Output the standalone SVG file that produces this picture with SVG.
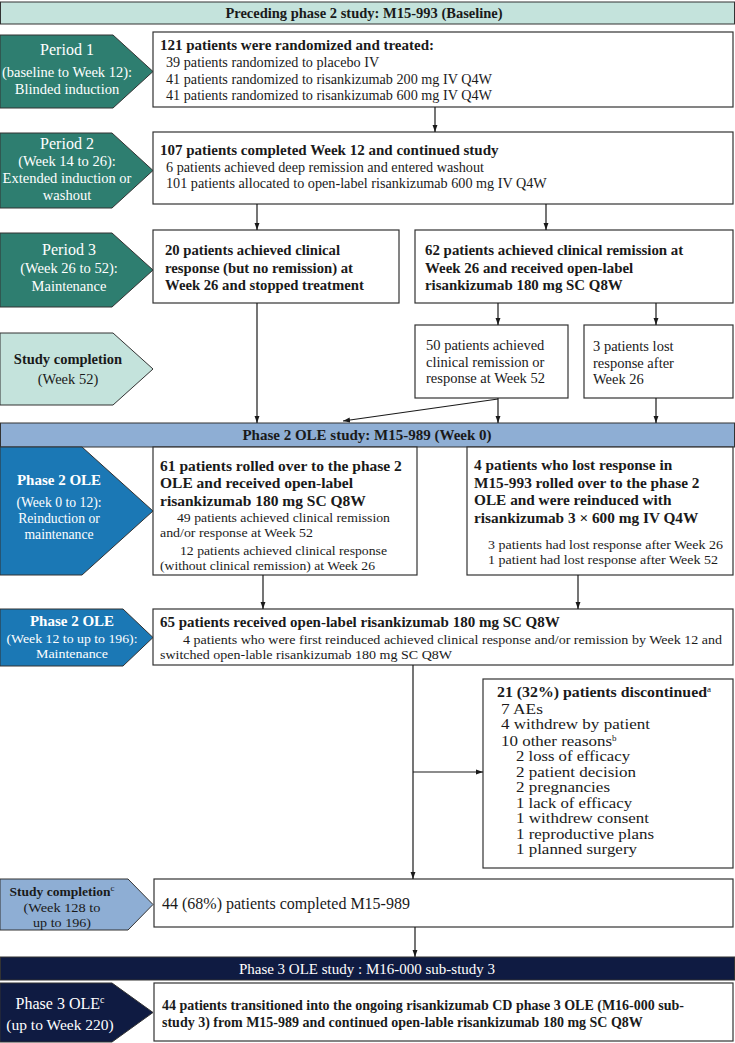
<svg xmlns="http://www.w3.org/2000/svg" width="735" height="1043" viewBox="0 0 735 1043">
<defs>
<marker id="ah" viewBox="0 0 10 10" refX="10" refY="5" markerWidth="7" markerHeight="7" orient="auto" markerUnits="userSpaceOnUse"><path d="M0,1.5 L10,5 L0,8.5 z" fill="#1a1a1a"/></marker>
</defs>
<style>
text{font-family:"Liberation Serif","Times New Roman",serif;fill:#1a1a1a}
.box{fill:#fff;stroke:#333;stroke-width:1.2}
.ban1{fill:#c4e3dc;stroke:#333;stroke-width:1}
.ban2{fill:#8eaed4;stroke:#333;stroke-width:1}
.ban3{fill:#0f1b42;stroke:#333;stroke-width:1}
.teal{fill:#2e7e70;stroke:#333;stroke-width:1}
.lteal{fill:#c4e3dc;stroke:#333;stroke-width:1}
.blue{fill:#1b78b5;stroke:#333;stroke-width:1}
.lblue{fill:#8eaed4;stroke:#333;stroke-width:1}
.navy{fill:#0f1b42;stroke:#333;stroke-width:1}
.w{fill:#fff}
.c{text-anchor:middle}
.b{font-weight:bold}
.d7{font-size:13.8px}
.con line{stroke:#1a1a1a;stroke-width:1.2;fill:none}
</style>
<rect width="735" height="1043" fill="#fff"/>

<g id="banner1"><rect class="ban1" x="0.5" y="2" width="734" height="22"/><text class="b c" x="364" y="18" font-size="14.5">Preceding phase 2 study: M15-993 (Baseline)</text></g>

<g id="period1"><polygon class="teal" points="0,35 113,35 153,71.5 113,108 0,108"/>
<text class="w c" x="67" y="55" font-size="16">Period 1</text>
<text class="w c" x="67" y="77" font-size="14.5">(baseline to Week 12):</text>
<text class="w c" x="67" y="94" font-size="14.5">Blinded induction</text></g>

<g id="box1"><rect class="box" x="153" y="32" width="580" height="75"/>
<text class="b" x="160" y="50" font-size="15">121 patients were randomized and treated:</text>
<text x="166" y="67" font-size="14.2">39 patients randomized to placebo IV</text>
<text x="166" y="84" font-size="14.2">41 patients randomized to risankizumab 200 mg IV Q4W</text>
<text x="166" y="100" font-size="14.2">41 patients randomized to risankizumab 600 mg IV Q4W</text></g>

<g id="period2"><polygon class="teal" points="0,133 112,133 153,170.5 112,208 0,208"/>
<text class="w c" x="67" y="149" font-size="16">Period 2</text>
<text class="w c" x="67" y="166" font-size="14.5">(Week 14 to 26):</text>
<text class="w c" x="67" y="183" font-size="14.5">Extended induction or</text>
<text class="w c" x="67" y="200" font-size="14.5">washout</text></g>

<g id="box2"><rect class="box" x="153" y="132" width="580" height="72"/>
<text class="b" x="160" y="155" font-size="15">107 patients completed Week 12 and continued study</text>
<text x="166" y="172" font-size="14.2">6 patients achieved deep remission and entered washout</text>
<text x="166" y="188" font-size="14.2">101 patients allocated to open-label risankizumab 600 mg IV Q4W</text></g>

<g id="period3"><polygon class="teal" points="0,233 112,233 153,270 112,307 0,307"/>
<text class="w c" x="69" y="255" font-size="16">Period 3</text>
<text class="w c" x="69" y="273" font-size="14.5">(Week 26 to 52):</text>
<text class="w c" x="69" y="291" font-size="14.5">Maintenance</text></g>

<g id="box3a"><rect class="box" x="153" y="230" width="246" height="73"/>
<text class="b" x="165" y="255" font-size="14.7">20 patients achieved clinical</text>
<text class="b" x="165" y="273" font-size="14.7">response (but no remission) at</text>
<text class="b" x="165" y="290" font-size="14.7">Week 26 and stopped treatment</text></g>

<g id="box3b"><rect class="box" x="415" y="230" width="318" height="73"/>
<text class="b" x="425" y="255" font-size="14.9">62 patients achieved clinical remission at</text>
<text class="b" x="425" y="273" font-size="14.9">Week 26 and received open-label</text>
<text class="b" x="425" y="290" font-size="14.9">risankizumab 180 mg SC Q8W</text></g>

<g id="studycompletion1"><polygon class="lteal" points="0,333 113,333 153,369 113,405 0,405"/>
<text class="b c" x="68" y="364" font-size="14.5">Study completion</text>
<text class="c" x="68" y="384" font-size="14.5">(Week 52)</text></g>

<g id="box4a"><rect class="box" x="415" y="325" width="153" height="73"/>
<text x="426" y="350" font-size="14.5">50 patients achieved</text>
<text x="426" y="367" font-size="14.5">clinical remission or</text>
<text x="426" y="383" font-size="14.5">response at Week 52</text></g>

<g id="box4b"><rect class="box" x="584" y="325" width="149" height="73"/>
<text x="593" y="351" font-size="14.5">3 patients lost</text>
<text x="593" y="368" font-size="14.5">response after</text>
<text x="593" y="384" font-size="14.5">Week 26</text></g>

<g id="banner2"><rect class="ban2" x="0.5" y="423" width="734" height="24"/><text class="b c" x="367" y="440" font-size="15">Phase 2 OLE study: M15-989 (Week 0)</text></g>

<g id="phase2ole1"><polygon class="blue" points="0,447 82,447 153,511 82,575 0,575"/>
<text class="w c b" x="59" y="485" font-size="15">Phase 2 OLE</text>
<text class="w c" x="59" y="507" font-size="13.7">(Week 0 to 12):</text>
<text class="w c" x="59" y="523" font-size="13.7">Reinduction or</text>
<text class="w c" x="59" y="539" font-size="13.7">maintenance</text></g>

<g id="box5a"><rect class="box" x="153" y="447" width="264" height="128"/>
<text class="b" x="160" y="471" font-size="15.5">61 patients rolled over to the phase 2</text>
<text class="b" x="160" y="488" font-size="15.5">OLE and received open-label</text>
<text class="b" x="160" y="506" font-size="15.5">risankizumab 180 mg SC Q8W</text>
<text x="177" y="522" font-size="13.2" textLength="213" lengthAdjust="spacingAndGlyphs">49 patients achieved clinical remission</text>
<text x="160" y="537" font-size="13.2" textLength="153" lengthAdjust="spacingAndGlyphs">and/or response at Week 52</text>
<text x="180" y="555" font-size="13.2" textLength="207" lengthAdjust="spacingAndGlyphs">12 patients achieved clinical response</text>
<text x="160" y="570" font-size="13.2" textLength="215" lengthAdjust="spacingAndGlyphs">(without clinical remission) at Week 26</text></g>

<g id="box5b"><rect class="box" x="467" y="447" width="266" height="128"/>
<text class="b" x="474" y="470" font-size="15.3">4 patients who lost response in</text>
<text class="b" x="474" y="488" font-size="15.3">M15-993 rolled over to the phase 2</text>
<text class="b" x="474" y="505" font-size="15.3">OLE and were reinduced with</text>
<text class="b" x="474" y="523" font-size="15.3">risankizumab 3 × 600 mg IV Q4W</text>
<text x="488" y="549" font-size="13.2" textLength="235" lengthAdjust="spacingAndGlyphs">3 patients had lost response after Week 26</text>
<text x="488" y="564" font-size="13.2" textLength="230" lengthAdjust="spacingAndGlyphs">1 patient had lost response after Week 52</text></g>

<g id="phase2ole2"><polygon class="blue" points="0,609 123,609 153,637.5 123,666 0,666"/>
<text class="w c b" x="72" y="626" font-size="15">Phase 2 OLE</text>
<text class="w c" x="72" y="643" font-size="13.2" textLength="131" lengthAdjust="spacingAndGlyphs">(Week 12 to up to 196):</text>
<text class="w c" x="72" y="658" font-size="13.2" textLength="72" lengthAdjust="spacingAndGlyphs">Maintenance</text></g>

<g id="box6"><rect class="box" x="153" y="609" width="580" height="56"/>
<text class="b" x="160" y="627" font-size="15">65 patients received open-label risankizumab 180 mg SC Q8W</text>
<text x="183" y="644" font-size="13.3" textLength="539" lengthAdjust="spacingAndGlyphs">4 patients who were first reinduced achieved clinical response and/or remission by Week 12 and</text>
<text x="160" y="659" font-size="13.3" textLength="292" lengthAdjust="spacingAndGlyphs">switched open-lable risankizumab 180 mg SC Q8W</text></g>

<g id="box7"><rect class="box" x="483" y="679" width="250" height="189"/>
<text class="b" x="497" y="697" font-size="14.5"><tspan textLength="210" lengthAdjust="spacingAndGlyphs">21 (32%) patients discontinued</tspan><tspan font-size="9" font-weight="normal" dy="-5">a</tspan></text>
<text class="d7" x="501" y="713.5" textLength="42" lengthAdjust="spacingAndGlyphs">7 AEs</text>
<text class="d7" x="501" y="729" textLength="149" lengthAdjust="spacingAndGlyphs">4 withdrew by patient</text>
<text class="d7" x="501" y="745.5"><tspan textLength="111" lengthAdjust="spacingAndGlyphs">10 other reasons</tspan><tspan font-size="9" dy="-4.5">b</tspan></text>
<text class="d7" x="516" y="761" textLength="114" lengthAdjust="spacingAndGlyphs">2 loss of efficacy</text>
<text class="d7" x="516" y="776.5" textLength="120" lengthAdjust="spacingAndGlyphs">2 patient decision</text>
<text class="d7" x="516" y="792" textLength="94" lengthAdjust="spacingAndGlyphs">2 pregnancies</text>
<text class="d7" x="516" y="807.5" textLength="116" lengthAdjust="spacingAndGlyphs">1 lack of efficacy</text>
<text class="d7" x="516" y="823" textLength="133" lengthAdjust="spacingAndGlyphs">1 withdrew consent</text>
<text class="d7" x="516" y="838.5" textLength="138" lengthAdjust="spacingAndGlyphs">1 reproductive plans</text>
<text class="d7" x="516" y="854" textLength="121" lengthAdjust="spacingAndGlyphs">1 planned surgery</text></g>

<g id="studycompletion2"><polygon class="lblue" points="0,879 128,879 153,904.5 128,930 0,930"/>
<text class="b c" x="62" y="896" font-size="13.5">Study completion<tspan font-size="9" font-weight="normal" dy="-5">c</tspan></text>
<text class="c" x="62" y="912" font-size="13.3" textLength="77" lengthAdjust="spacingAndGlyphs">(Week 128 to</text>
<text class="c" x="62" y="927" font-size="13.3" textLength="58" lengthAdjust="spacingAndGlyphs">up to 196)</text></g>

<g id="box8"><rect class="box" x="154" y="879" width="579" height="48"/>
<text x="162" y="909" font-size="16">44 (68%) patients completed M15-989</text></g>

<g id="banner3"><rect class="ban3" x="0.5" y="957" width="734" height="23"/><text class="w c" x="367" y="974" font-size="15">Phase 3 OLE study : M16-000 sub-study 3</text></g>

<g id="phase3ole"><polygon class="navy" points="0,983 112,983 153,1012.5 112,1042 0,1042"/>
<text class="w c" x="60" y="1009" font-size="16">Phase 3 OLE<tspan font-size="10" dy="-6">c</tspan></text>
<text class="w c" x="60" y="1030" font-size="15.5">(up to Week 220)</text></g>

<g id="box9"><rect class="box" x="154" y="983" width="579" height="58"/>
<text class="b" x="162" y="1010" font-size="14">44 patients transitioned into the ongoing risankizumab CD phase 3 OLE (M16-000 sub-</text>
<text class="b" x="162" y="1027" font-size="14">study 3) from M15-989 and continued open-lable risankizumab 180 mg SC Q8W</text></g>

<g id="connectors" class="con">
<line x1="435" y1="107" x2="435" y2="132" marker-end="url(#ah)"/>
<line x1="257" y1="204" x2="257" y2="230" marker-end="url(#ah)"/>
<line x1="546" y1="204" x2="546" y2="230" marker-end="url(#ah)"/>
<line x1="498" y1="303" x2="498" y2="325" marker-end="url(#ah)"/>
<line x1="656" y1="303" x2="656" y2="325" marker-end="url(#ah)"/>
<line x1="257" y1="303" x2="257" y2="423" marker-end="url(#ah)"/>
<line x1="498" y1="398" x2="498" y2="423" marker-end="url(#ah)"/>
<line x1="498" y1="399" x2="343" y2="421" marker-end="url(#ah)"/>
<line x1="656" y1="398" x2="656" y2="423" marker-end="url(#ah)"/>
<line x1="263" y1="575" x2="263" y2="609" marker-end="url(#ah)"/>
<line x1="578" y1="575" x2="578" y2="609" marker-end="url(#ah)"/>
<line x1="413" y1="665" x2="413" y2="879" marker-end="url(#ah)"/>
<line x1="413" y1="772" x2="483" y2="772" marker-end="url(#ah)"/>
<line x1="415" y1="927" x2="415" y2="957" marker-end="url(#ah)"/>
</g>
</svg>
